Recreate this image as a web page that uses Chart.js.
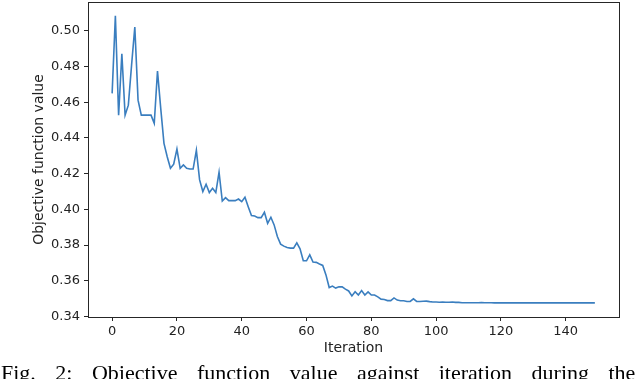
<!DOCTYPE html>
<html>
<head>
<meta charset="utf-8">
<script src="https://cdn.jsdelivr.net/npm/chart.js@4/dist/chart.umd.min.js"></script>
<style>
  body { margin: 0; background: #fff; }
  #wrap { position: relative; width: 640px; height: 379px; overflow: hidden; }
  #caption {
    position: absolute; left: 1px; top: 360px;
    font-family: "Liberation Serif", serif; font-size: 22px; color: #000;
    white-space: nowrap; word-spacing: 14px;
  }
</style>
</head>
<body>
<div id="wrap">
  <canvas id="objChart" width="640" height="379"></canvas>
  <div id="caption">Fig. 2: Objective function value against iteration during the</div>
</div>
<script>
// objective value per iteration
const values = [
  0.4650, 0.5085, 0.4528, 0.4872, 0.4528, 0.4584, 0.4808, 0.5022, 0.4612, 0.4528,
  0.4528, 0.4528, 0.4528, 0.4482, 0.4775, 0.4566, 0.4370, 0.4295, 0.4230, 0.4253,
  0.4338, 0.4230, 0.4249, 0.4230, 0.4226, 0.4226, 0.4331, 0.4165, 0.4100, 0.4141,
  0.4094, 0.4118, 0.4094, 0.4208, 0.4047, 0.4066, 0.4049, 0.4049, 0.4049, 0.4058,
  0.4043, 0.4068, 0.4015, 0.3965, 0.3963, 0.3954, 0.3954, 0.3984, 0.3922, 0.3956,
  0.3913, 0.3848, 0.3805, 0.3794, 0.3786, 0.3783, 0.3783, 0.3812, 0.3779, 0.3712,
  0.3712, 0.3745, 0.3705, 0.3703, 0.3694, 0.3686, 0.3633, 0.3562, 0.3570, 0.3559,
  0.3566, 0.3566, 0.3553, 0.3543, 0.3515, 0.3539, 0.3520, 0.3545, 0.3520, 0.3538,
  0.3520, 0.3520, 0.3510, 0.3497, 0.3495, 0.3489, 0.3489, 0.3504, 0.3492, 0.3488,
  0.3488, 0.3484, 0.3484, 0.3499, 0.3484, 0.3484, 0.3485, 0.3486, 0.3483, 0.3481,
  0.3481, 0.3480, 0.3481, 0.3480, 0.3480, 0.3481, 0.3479, 0.3479, 0.3477, 0.3477,
  0.3477, 0.3477, 0.3477, 0.3477, 0.3478, 0.3477, 0.3477, 0.3477, 0.3476, 0.3476,
  0.3476, 0.3476, 0.3476, 0.3476, 0.3476, 0.3476, 0.3476, 0.3476, 0.3476, 0.3476,
  0.3476, 0.3476, 0.3476, 0.3476, 0.3476, 0.3476, 0.3476, 0.3476, 0.3476, 0.3476,
  0.3476, 0.3476, 0.3476, 0.3476, 0.3476, 0.3476, 0.3476, 0.3476, 0.3476, 0.3476
];
const iterations = values.map((v, i) => i);
const xTicks = [0, 20, 40, 60, 80, 100, 120, 140];
const yTicks = [0.34, 0.36, 0.38, 0.40, 0.42, 0.44, 0.46, 0.48, 0.50];

const axisColor = '#262626';
const tickFont = { family: 'DejaVu Sans', size: 13 };
const titleFont = { family: 'DejaVu Sans', size: 14 };

// box round the plot area (matplotlib style spines)
const frame = {
  id: 'frame',
  afterDraw(chart) {
    const a = chart.chartArea;
    const ctx = chart.ctx;
    ctx.save();
    ctx.strokeStyle = axisColor;
    ctx.lineWidth = 1;
    ctx.strokeRect(a.left + 0.5, a.top + 0.5, a.right - a.left, a.bottom - a.top);
    ctx.restore();
  }
};

new Chart(document.getElementById('objChart').getContext('2d'), {
  type: 'line',
  data: {
    datasets: [{
      data: iterations.map((it, i) => ({ x: it, y: values[i] })),
      borderColor: '#3a7ebf',
      borderWidth: 1.6,
      pointRadius: 0,
      tension: 0,
      fill: false
    }]
  },
  options: {
    responsive: false,
    animation: false,
    layout: { padding: { left: 0, top: 2, right: 21, bottom: 0 } },
    plugins: { legend: { display: false }, tooltip: { enabled: false } },
    scales: {
      x: {
        type: 'linear',
        min: -7.45,
        max: 156.45,
        afterBuildTicks: s => { s.ticks = xTicks.map(v => ({ value: v })); },
        afterFit: s => { s.height = 62; s.paddingLeft = 0; s.paddingRight = 0; },
        grid: { drawOnChartArea: false, drawTicks: true, tickLength: 4, color: axisColor },
        border: { color: axisColor },
        ticks: { color: '#222', font: tickFont, padding: 3, maxRotation: 0 },
        title: { display: true, text: 'Iteration', color: '#222', font: titleFont, padding: { top: 0, bottom: 22 } }
      },
      y: {
        min: 0.3397,
        max: 0.5162,
        afterBuildTicks: s => { s.ticks = yTicks.map(v => ({ value: v })); },
        afterFit: s => { s.width = 88; s.paddingTop = 0; s.paddingBottom = 0; },
        grid: { drawOnChartArea: false, drawTicks: true, tickLength: 4, color: axisColor },
        border: { color: axisColor },
        ticks: { color: '#222', font: tickFont, padding: 4, callback: v => v.toFixed(2) },
        title: { display: true, text: 'Objective function value', color: '#222', font: titleFont, padding: { top: 31, bottom: 0 } }
      }
    }
  },
  plugins: [frame]
});
</script>
</body>
</html>
